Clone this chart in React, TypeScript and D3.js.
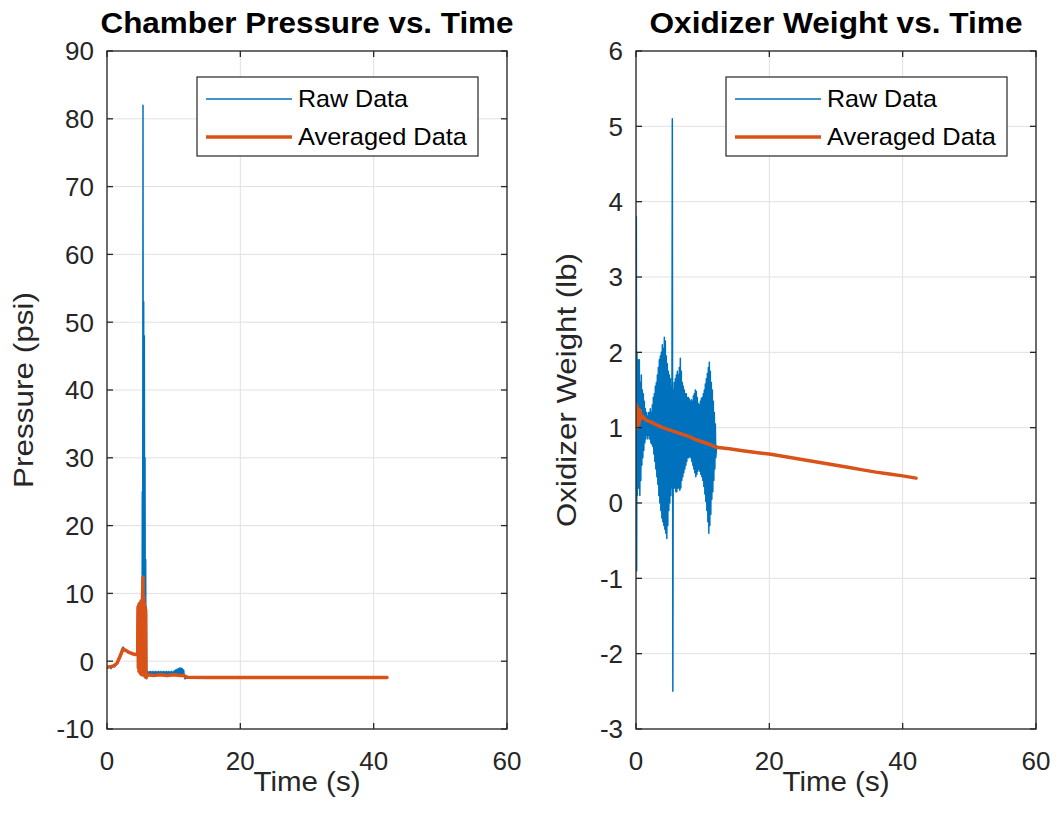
import React from "react";
import * as d3 from "d3";

// ---------- Data ----------
const xTicks = [0, 20, 40, 60];
const pressureTicks = [-10, 0, 10, 20, 30, 40, 50, 60, 70, 80, 90];
const weightTicks = [-3, -2, -1, 0, 1, 2, 3, 4, 5, 6];

// Chamber pressure, raw: start-up and spike
const pressureRawHeadT = [0, 0.3, 0.6, 0.9, 1.2, 1.5, 1.8, 2.1, 2.4, 2.7, 3.0, 3.4, 3.8, 4.2, 4.5,
  4.6, 4.65, 4.7, 4.75, 4.8, 4.85, 4.9, 4.95, 5.0, 5.05, 5.1, 5.15, 5.2, 5.25, 5.3, 5.35, 5.4, 5.45,
  5.5, 5.55, 5.6, 5.65, 5.7, 5.75, 5.8, 5.85, 5.9, 5.95];
const pressureRawHeadV = [-1.0, -0.7, -1.1, -0.6, -0.8, -0.2, 0.6, 1.4, 2.1, 1.7, 1.5, 1.3, 1.1, 1.0, 0.9,
  7.5, -1.0, 8.0, -1.5, 8.5, -1.5, 8.0, -1.8, 9.0, -1.5, 8.5, -2.0, 10.0, -1.8, 25.0, -1.5, 82.0, -2.0,
  53.0, -1.5, 48.0, -2.0, 30.0, -2.2, 15.0, -2.5, 8.0, -2.6];
// Chamber pressure, raw: noisy plateau sampled every 0.1 s from t = 6.0 s
const pressureNoiseStart = 6.0;
const pressureNoiseStep = 0.1;
const pressureNoiseV = [
  -2.2, -1.5, -2.0, -1.6, -2.1, -1.5, -1.9, -1.6, -2.0, -1.5,
  -1.9, -1.6, -2.0, -1.5, -1.9, -1.6, -2.0, -1.5, -1.9, -1.6,
  -2.0, -1.5, -1.9, -1.6, -2.0, -1.5, -1.9, -1.6, -2.0, -1.5,
  -1.9, -1.6, -2.0, -1.5, -1.9, -1.6, -2.0, -1.5, -1.9, -1.6,
  -1.9, -1.4, -2.0, -1.3, -1.9, -1.2, -2.0, -1.1, -1.9, -1.0,
  -1.9, -1.0, -1.8, -1.1, -1.9, -1.3, -2.3, -2.6];
const pressureRawTailT = [12.0, 15, 20, 25, 30, 35, 40, 42];
const pressureRawTailV = [-2.5, -2.5, -2.5, -2.5, -2.5, -2.5, -2.5, -2.5];

const pressureAvgT = [0, 0.5, 1.0, 1.5, 2.0, 2.4, 2.8, 3.3, 3.8, 4.3, 4.6,
  4.65, 4.7, 4.75, 4.8, 4.85, 4.9, 4.95, 5.0, 5.05, 5.1, 5.15, 5.2, 5.25, 5.3, 5.35, 5.4, 5.45,
  5.5, 5.55, 5.6, 5.65, 5.7, 5.75, 5.8, 5.85, 5.9,
  6.2, 7, 8, 9, 10, 11, 11.5, 12, 15, 20, 25, 30, 35, 40, 42];
const pressureAvgV = [-0.9, -0.8, -0.7, -0.3, 0.8, 1.8, 1.6, 1.3, 1.1, 1.0, 1.0,
  8.0, -1.0, 8.2, -1.5, 8.5, -1.5, 8.3, -1.8, 8.6, -1.8, 8.8, -2.0, 9.0, -2.0, 10.0, 12.4, -2.0,
  9.5, -2.0, 8.5, -2.2, 8.0, -2.3, 7.5, -2.4, -2.3,
  -2.0, -2.1, -2.0, -2.1, -2.0, -2.1, -2.1, -2.35, -2.4, -2.4, -2.4, -2.4, -2.4, -2.4, -2.4];

// Oxidizer weight, raw: first spikes
const weightRawHeadT = [0.0, 0.05, 0.1, 0.15, 0.2, 0.3, 0.4];
const weightRawHeadV = [1.1, 3.8, -0.9, 2.0, 0.1, 1.9, 0.2];
// Oxidizer weight, raw: oscillating part sampled every 0.075 s from t = 0.5 s
const weightNoiseStart = 0.5;
const weightNoiseStep = 0.075;
const weightNoiseV = [
  1.9, 0.1, 1.6, 0.3, 1.7, 0.5, 1.5,
  0.6, 1.45, 0.7, 1.35, 0.8, 1.25, 0.85,
  1.2, 0.9, 1.15, 0.85, 1.2, 0.9, 1.2,
  0.85, 1.25, 0.8, 1.2, 0.78, 1.3, 0.75,
  1.4, 0.65, 1.45, 0.55, 1.55, 0.45, 1.6,
  0.35, 1.7, 0.25, 1.8, 0.1, 1.9, 0.0,
  1.95, -0.1, 2.0, -0.2, 2.1, -0.25, 2.05,
  -0.3, 2.2, -0.35, 2.15, -0.4, 1.95, -0.47,
  1.85, -0.3, 1.75, -0.1, 1.7, 0.0, 1.65,
  0.1, 1.55, 0.2, 5.1, -2.5, 1.5, 0.2,
  1.6, 0.2, 1.65, 0.15, 1.7, 0.15, 1.75,
  0.2, 1.7, 0.2, 1.8, 0.17, 1.92, 0.2,
  1.75, 0.3, 1.6, 0.35, 1.55, 0.4, 1.5,
  0.45, 1.45, 0.5, 1.45, 0.55, 1.4, 0.6,
  1.4, 0.6, 1.38, 0.62, 1.35, 0.6, 1.37,
  0.55, 1.35, 0.5, 1.42, 0.45, 1.45, 0.4,
  1.5, 0.35, 1.48, 0.38, 1.4, 0.42, 1.32,
  0.45, 1.3, 0.42, 1.35, 0.38, 1.39, 0.35,
  1.4, 0.3, 1.45, 0.22, 1.5, 0.12, 1.58,
  0.02, 1.65, -0.1, 1.72, -0.25, 1.8, -0.4,
  1.87, -0.3, 1.75, -0.15, 1.6, 0.05, 1.5,
  0.15, 1.35, 0.3, 1.2, 0.45, 1.05, 0.6];
const weightRawTailT = [12.1, 12.2, 14, 16, 18, 20, 22, 24, 26, 28, 30, 32, 34, 36, 38, 40, 42];
const weightRawTailV = [0.76, 0.74, 0.72, 0.695, 0.67, 0.65, 0.62, 0.59, 0.56, 0.53, 0.5, 0.47, 0.44, 0.41, 0.385, 0.36, 0.33];

const weightAvgT = [0, 0.1, 0.2, 0.3, 0.45, 0.6, 0.8, 1.0, 1.5, 2.1, 3, 4, 5, 6, 7, 8, 9, 10, 11, 12,
  14, 16, 18, 20, 22, 24, 26, 28, 30, 32, 34, 36, 38, 40, 42];
const weightAvgV = [1.05, 1.3, 1.0, 1.25, 1.05, 1.23, 1.12, 1.15, 1.1, 1.08, 1.04, 1.0, 0.97, 0.94, 0.91, 0.88, 0.84, 0.81, 0.78, 0.74,
  0.72, 0.695, 0.67, 0.65, 0.62, 0.59, 0.56, 0.53, 0.5, 0.47, 0.44, 0.41, 0.385, 0.36, 0.33];

const legendLabels = ["Raw Data", "Averaged Data"];

// ---------- helpers ----------
type Pt = [number, number];
const zipPts = (t: number[], v: number[]): Pt[] => t.map((ti, i) => [ti, v[i]] as Pt);
const sampled = (start: number, step: number, v: number[]): Pt[] => v.map((vi, i) => [start + i * step, vi] as Pt);

const pressureRaw: Pt[] = [
  ...zipPts(pressureRawHeadT, pressureRawHeadV),
  ...sampled(pressureNoiseStart, pressureNoiseStep, pressureNoiseV),
  ...zipPts(pressureRawTailT, pressureRawTailV),
];
const pressureAvg: Pt[] = zipPts(pressureAvgT, pressureAvgV);
const weightRaw: Pt[] = [
  ...zipPts(weightRawHeadT, weightRawHeadV),
  ...sampled(weightNoiseStart, weightNoiseStep, weightNoiseV),
  ...zipPts(weightRawTailT, weightRawTailV),
];
const weightAvg: Pt[] = zipPts(weightAvgT, weightAvgV);

// ---------- Styling ----------
const BLUE = "#0072BD";
const ORANGE = "#D95319";
const AX = "#262626";
const GRID = "#e1e1e1";
const FONT = "'Liberation Sans', Arial, Helvetica, sans-serif";

type PanelProps = {
  left: number;
  title: string;
  titleLen: number;
  ylabel: string;
  ylabelLen: number;
  ylabelX: number;
  yDomain: [number, number];
  yTicks: number[];
  raw: Pt[];
  avg: Pt[];
  clipId: string;
};

const TOP = 51;
const BOTTOM = 729;
const WIDTH = 400;

function Panel(p: PanelProps) {
  const x = d3.scaleLinear().domain([0, 60]).range([p.left, p.left + WIDTH]);
  const y = d3.scaleLinear().domain(p.yDomain).range([BOTTOM, TOP]);
  const line = d3
    .line<Pt>()
    .x((d) => x(d[0]))
    .y((d) => y(d[1]));
  const x0 = p.left;
  const x1 = p.left + WIDTH;
  const cx = (x0 + x1) / 2;
  const cy = (TOP + BOTTOM) / 2;
  const tl = 6;
  const lg = { x0: x0 + 90, x1: x1 - 29, y0: 77, y1: 156 };
  return (
    <g>
      <defs>
        <clipPath id={p.clipId}>
          <rect x={x0} y={TOP} width={WIDTH} height={BOTTOM - TOP} />
        </clipPath>
      </defs>
      {xTicks.map((t) => (
        <line key={"gx" + t} x1={x(t)} x2={x(t)} y1={TOP} y2={BOTTOM} stroke={GRID} strokeWidth={1} />
      ))}
      {p.yTicks.map((t) => (
        <line key={"gy" + t} x1={x0} x2={x1} y1={y(t)} y2={y(t)} stroke={GRID} strokeWidth={1} />
      ))}
      <g clipPath={`url(#${p.clipId})`}>
        <path d={line(p.raw) || ""} fill="none" stroke={BLUE} strokeWidth={1.5} strokeLinejoin="round" />
        <path d={line(p.avg) || ""} fill="none" stroke={ORANGE} strokeWidth={3.5} strokeLinejoin="round" strokeLinecap="round" />
      </g>
      <rect x={x0} y={TOP} width={WIDTH} height={BOTTOM - TOP} fill="none" stroke={AX} strokeWidth={1.3} />
      {xTicks.map((t) => (
        <g key={"tx" + t}>
          <line x1={x(t)} x2={x(t)} y1={BOTTOM} y2={BOTTOM - tl} stroke={AX} strokeWidth={1.3} />
          <line x1={x(t)} x2={x(t)} y1={TOP} y2={TOP + tl} stroke={AX} strokeWidth={1.3} />
          <text x={x(t)} y={770} textAnchor="middle" fontSize={26} fill={AX} fontFamily={FONT}>
            {t}
          </text>
        </g>
      ))}
      {p.yTicks.map((t) => (
        <g key={"ty" + t}>
          <line x1={x0} x2={x0 + tl} y1={y(t)} y2={y(t)} stroke={AX} strokeWidth={1.3} />
          <line x1={x1} x2={x1 - tl} y1={y(t)} y2={y(t)} stroke={AX} strokeWidth={1.3} />
          <text x={x0 - 13} y={y(t)} dy="0.36em" textAnchor="end" fontSize={26} fill={AX} fontFamily={FONT}>
            {t}
          </text>
        </g>
      ))}
      <text x={cx} y={33} textAnchor="middle" fontSize={29} fontWeight="bold" fill="#000" fontFamily={FONT}
        textLength={p.titleLen} lengthAdjust="spacingAndGlyphs">
        {p.title}
      </text>
      <text x={cx} y={791} textAnchor="middle" fontSize={28} fill={AX} fontFamily={FONT}
        textLength={107} lengthAdjust="spacingAndGlyphs">
        Time (s)
      </text>
      <text transform={`translate(${p.ylabelX},${cy}) rotate(-90)`} textAnchor="middle" fontSize={28} fill={AX}
        fontFamily={FONT} textLength={p.ylabelLen} lengthAdjust="spacingAndGlyphs">
        {p.ylabel}
      </text>
      <rect x={lg.x0} y={lg.y0} width={lg.x1 - lg.x0} height={lg.y1 - lg.y0} fill="#fff" stroke={AX} strokeWidth={1.2} />
      <line x1={lg.x0 + 9} x2={lg.x0 + 95} y1={99} y2={99} stroke={BLUE} strokeWidth={1.5} />
      <line x1={lg.x0 + 9} x2={lg.x0 + 95} y1={137} y2={137} stroke={ORANGE} strokeWidth={3.5} />
      <text x={lg.x0 + 101} y={107} fontSize={24} fill="#000" fontFamily={FONT} textLength={110} lengthAdjust="spacingAndGlyphs">
        {legendLabels[0]}
      </text>
      <text x={lg.x0 + 101} y={145} fontSize={24} fill="#000" fontFamily={FONT} textLength={169} lengthAdjust="spacingAndGlyphs">
        {legendLabels[1]}
      </text>
    </g>
  );
}

export default function App() {
  return (
    <svg width={1058} height={823} style={{ position: "absolute", left: 0, top: 0, background: "#fff" }}>
      <rect x={0} y={0} width={1058} height={823} fill="#fff" />
      <Panel
        left={107}
        title="Chamber Pressure vs. Time"
        titleLen={413}
        ylabel="Pressure (psi)"
        ylabelLen={196}
        ylabelX={33}
        yDomain={[-10, 90]}
        yTicks={pressureTicks}
        raw={pressureRaw}
        avg={pressureAvg}
        clipId="clipP"
      />
      <Panel
        left={636}
        title="Oxidizer Weight vs. Time"
        titleLen={373}
        ylabel="Oxidizer Weight (lb)"
        ylabelLen={274}
        ylabelX={576}
        yDomain={[-3, 6]}
        yTicks={weightTicks}
        raw={weightRaw}
        avg={weightAvg}
        clipId="clipW"
      />
    </svg>
  );
}
